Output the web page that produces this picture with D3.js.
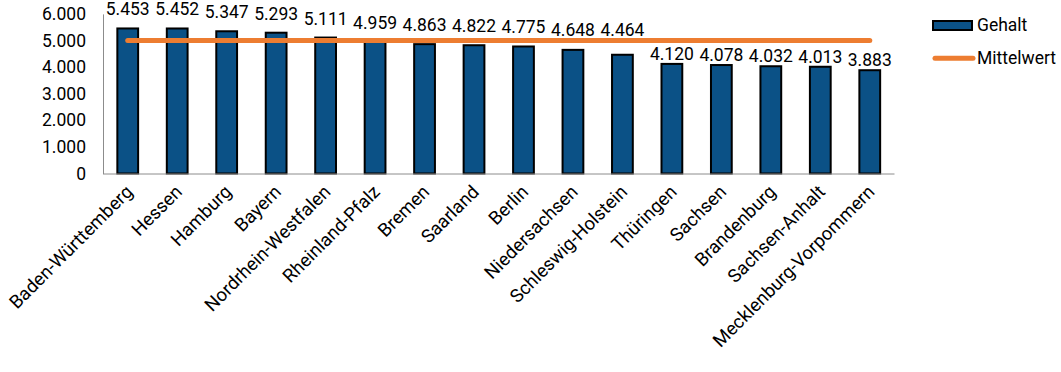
<!DOCTYPE html>
<html>
<head>
<meta charset="utf-8">
<script src="https://cdn.jsdelivr.net/npm/d3@7"></script>
<style>
  body { margin: 0; background: #fff; }
  text { font-family: Roboto, sans-serif; fill: #000; }
</style>
</head>
<body>
<div id="visual"></div>
<script>
// chart data
const categories = ["Baden-Württemberg", "Hessen", "Hamburg", "Bayern", "Nordrhein-Westfalen",
    "Rheinland-Pfalz", "Bremen", "Saarland", "Berlin", "Niedersachsen", "Schleswig-Holstein",
    "Thüringen", "Sachsen", "Brandenburg", "Sachsen-Anhalt", "Mecklenburg-Vorpommern"];
const gehalt = [5453, 5452, 5347, 5293, 5111, 4959, 4863, 4822, 4775, 4648, 4464,
    4120, 4078, 4032, 4013, 3883];
const mittelwert = [5000, 5000, 5000, 5000, 5000, 5000, 5000, 5000, 5000, 5000, 5000,
    5000, 5000, 5000, 5000, 5000];
const yTicks = [0, 1000, 2000, 3000, 4000, 5000, 6000];
const seriesNames = ["Gehalt", "Mittelwert"];

const COLORS = {
    bar: "#0B5186",
    line: "#ED7D31",
    axis: "#8C8C8C"
};

const width = 1061, height = 372;
const plot = {left: 103, right: 894.5, top: 13.9, bottom: 173.5};

const de = d3.formatLocale({decimal: ",", thousands: ".", grouping: [3], currency: ["", " €"]});
const fmt = de.format(",d");

const data = categories.map((c, i) => ({name: c, value: gehalt[i], mean: mittelwert[i]}));

const svg = d3.select("#visual")
    .append("svg")
    .attr("width", width)
    .attr("height", height);

const x = d3.scaleBand()
    .domain(categories)
    .range([plot.left, plot.right])
    .paddingInner(0.58)
    .paddingOuter(0.29);

const y = d3.scaleLinear()
    .domain([0, 6000])
    .range([plot.bottom, plot.top]);

const cx = d => x(d) + x.bandwidth() / 2;

// y axis
svg.append("g")
    .attr("transform", `translate(${plot.left},0)`)
    .call(d3.axisLeft(y).tickValues(yTicks).tickFormat(fmt).tickSize(0).tickPadding(17))
    .call(g => g.select(".domain").attr("stroke", COLORS.axis))
    .call(g => g.selectAll("text")
        .style("font-family", "Roboto, sans-serif")
        .style("font-size", "17.5px")
        .attr("fill", "#000"));

// bars
svg.selectAll(".bar")
    .data(data)
    .enter()
    .append("rect")
    .attr("class", "bar")
    .attr("x", d => x(d.name))
    .attr("y", d => y(d.value))
    .attr("width", x.bandwidth())
    .attr("height", d => y(0) - y(d.value))
    .style("fill", COLORS.bar)
    .style("stroke", "#000")
    .style("stroke-width", 2);

// x axis
svg.append("g")
    .attr("transform", `translate(0,${plot.bottom})`)
    .call(d3.axisBottom(x).tickSize(0).tickPadding(0))
    .call(g => g.select(".domain").attr("stroke", COLORS.axis).attr("d", `M${plot.left},0.5H${plot.right}`))
    .call(g => g.selectAll("text")
        .attr("transform", "translate(6,19.5) rotate(-45)")
        .attr("dy", 0)
        .attr("y", 0)
        .style("text-anchor", "end")
        .style("font-family", "Roboto, sans-serif")
        .style("font-size", "18.5px")
        .attr("fill", "#000"));

// mean line
const line = d3.line()
    .x(d => cx(d.name))
    .y(d => y(d.mean));

svg.append("path")
    .datum(data)
    .attr("d", line)
    .attr("fill", "none")
    .attr("stroke", COLORS.line)
    .attr("stroke-width", 5)
    .attr("stroke-linecap", "round");

// value labels: above the bar, pushed over the mean line when they would touch it
svg.selectAll(".label")
    .data(data)
    .enter()
    .append("text")
    .attr("class", "label")
    .attr("x", d => cx(d.name))
    .attr("y", d => {
        let base = y(d.value) - 4;
        if (base - 13 < y(d.mean) + 3) {
            base = Math.min(y(d.value) - 13, y(d.mean) - 5);
        }
        return base;
    })
    .attr("text-anchor", "middle")
    .style("font-size", "17.5px")
    .text(d => fmt(d.value));

// legend
const legend = svg.append("g").attr("transform", "translate(933,0)");

legend.append("rect")
    .attr("x", 0).attr("y", 21)
    .attr("width", 39).attr("height", 9)
    .style("fill", COLORS.bar)
    .style("stroke", "#000")
    .style("stroke-width", 2);

legend.append("line")
    .attr("x1", 2).attr("x2", 40)
    .attr("y1", 58.3).attr("y2", 58.3)
    .attr("stroke", COLORS.line)
    .attr("stroke-width", 5)
    .attr("stroke-linecap", "round");

legend.selectAll(".legend-text")
    .data(seriesNames)
    .enter()
    .append("text")
    .attr("class", "legend-text")
    .attr("x", 44)
    .attr("y", (d, i) => 31 + i * 33)
    .style("font-size", "17.5px")
    .text(d => d);
</script>
</body>
</html>
